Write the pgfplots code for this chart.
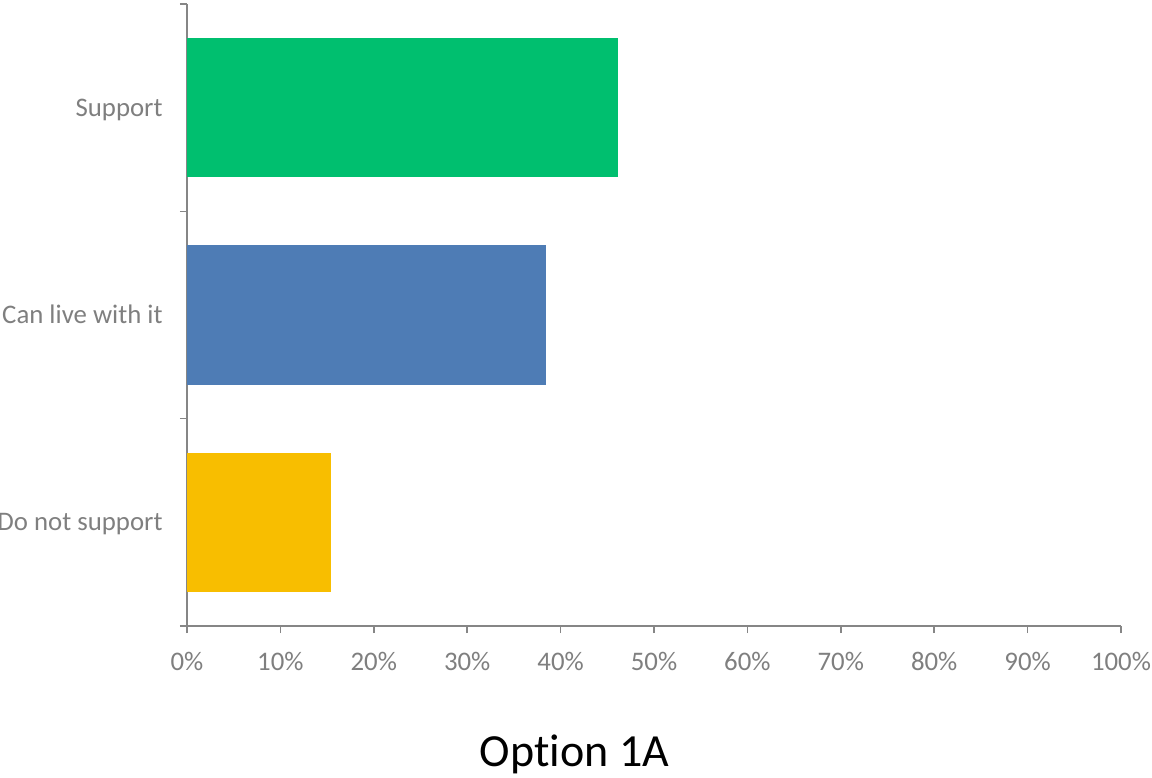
\documentclass[border=0pt]{standalone}
\usepackage{pgfplots}
\pgfplotsset{compat=1.18}
\usepackage{fontspec}
\setmainfont{Carlito}[Ligatures=NoCommon]

\definecolor{supportgreen}{HTML}{00BF6F}
\definecolor{livewithblue}{HTML}{4E7CB5}
\definecolor{notsupportgold}{HTML}{F8BE00}
\definecolor{axisgray}{HTML}{868686}
\definecolor{labelgray}{HTML}{7F7F7F}

\begin{document}
\begin{tikzpicture}
\begin{axis}[
  scale only axis,
  width=467pt, height=311pt,
  xmin=0, xmax=100,
  ymin=-0.5, ymax=2.5,
  axis lines*=left,
  axis line style={axisgray, line width=0.75pt},
  every tick/.style={axisgray, line width=0.75pt},
  tick align=outside,
  major tick length=3.5pt,
  xtick={0,10,...,100},
  xticklabels={0\%,10\%,20\%,30\%,40\%,50\%,60\%,70\%,80\%,90\%,100\%},
  xticklabel style={font=\fontsize{13.4pt}{16pt}\selectfont, text=labelgray, anchor=base, inner sep=0pt, yshift=-18.5pt},
  ytick={-0.5,0.5,1.5,2.5},
  yticklabels={},
  extra y ticks={0,1,2},
  extra y tick labels={Do not support,Can live with it,Support},
  extra y tick style={major tick length=0pt,
    yticklabel style={font=\fontsize{13.4pt}{16pt}\selectfont, text=labelgray, anchor=base east, inner sep=0pt, xshift=-12pt, yshift=-4.25pt}},
  xbar, bar width=69.5pt, bar shift=0pt,
  clip=false,
]
\addplot[draw=none, fill=notsupportgold] coordinates {(15.38,0)};
\addplot[draw=none, fill=livewithblue] coordinates {(38.46,1)};
\addplot[draw=none, fill=supportgreen] coordinates {(46.15,2)};

\node[anchor=base, font=\fontsize{23pt}{27pt}\selectfont, inner sep=0pt]
  at ([xshift=193.75pt, yshift=-70pt]rel axis cs:0,0) {Option 1A};

% page frame around the axis
\coordinate (frameTL) at ([xshift=-93.5pt, yshift=2pt]rel axis cs:0,1);
\coordinate (frameBR) at ([xshift=15.5pt, yshift=-75.5pt]rel axis cs:1,0);
\end{axis}
\pgfresetboundingbox
\path[use as bounding box] (frameTL) rectangle (frameBR);
\end{tikzpicture}
\end{document}
